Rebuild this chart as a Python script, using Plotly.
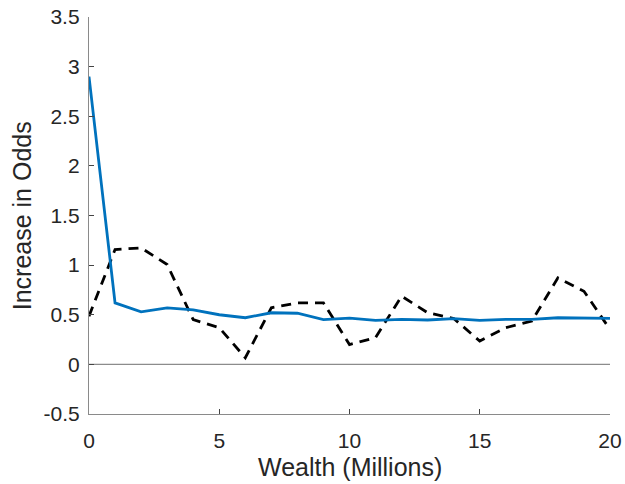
import plotly.graph_objects as go

# Wealth grid (millions) and the two odds series
wealth = list(range(0, 21))
odds_model = [2.90, 0.62, 0.53, 0.57, 0.55, 0.50, 0.47, 0.52, 0.515, 0.45, 0.465,
              0.443, 0.453, 0.447, 0.46, 0.443, 0.453, 0.453, 0.47, 0.47, 0.463]
odds_data = [0.486, 1.157, 1.174, 1.006, 0.45, 0.37, 0.067, 0.57, 0.62, 0.62, 0.20,
             0.27, 0.687, 0.52, 0.463, 0.235, 0.37, 0.436, 0.872, 0.737, 0.352]

x_ticks = [0, 5, 10, 15, 20]
y_ticks = [-0.5, 0, 0.5, 1, 1.5, 2, 2.5, 3, 3.5]
y_tick_text = ["-0.5", "0", "0.5", "1", "1.5", "2", "2.5", "3", "3.5"]

font_family = "Liberation Sans, Arial, Helvetica, sans-serif"
text_color = "#262626"

fig = go.Figure()

# Zero reference line
fig.add_trace(go.Scatter(
    x=[wealth[0], wealth[-1]], y=[0, 0], mode="lines",
    line=dict(color="#8c8c8c", width=1.3), hoverinfo="skip", showlegend=False,
))

fig.add_trace(go.Scatter(
    x=wealth, y=odds_data, mode="lines",
    line=dict(color="black", width=2.8, dash="10px,7px"), showlegend=False,
))

fig.add_trace(go.Scatter(
    x=wealth, y=odds_model, mode="lines",
    line=dict(color="#0072BD", width=2.8), showlegend=False,
))

axis_common = dict(
    showgrid=False, zeroline=False, showline=True, linecolor="#8a8a8a", linewidth=1.3,
    ticks="inside", ticklen=5, tickwidth=1, tickcolor="#444444",
    tickfont=dict(family=font_family, size=21, color=text_color),
    mirror=False, automargin=False,
)

title_font = dict(family=font_family, size=25, color=text_color)

fig.update_layout(
    width=625, height=484,
    margin=dict(l=89, r=15, t=17, b=70, autoexpand=False),
    paper_bgcolor="white", plot_bgcolor="white",
    xaxis=dict(range=[0, 20], tickvals=x_ticks, ticklabelstandoff=8, **axis_common),
    yaxis=dict(range=[-0.5, 3.5], tickvals=y_ticks, ticktext=y_tick_text,
               ticklabelstandoff=4, **axis_common),
    annotations=[
        # axis titles placed relative to the plotting area
        dict(text="Wealth (Millions)", xref="paper", yref="paper",
             x=0.5, y=-0.134, xanchor="center", yanchor="middle",
             showarrow=False, font=title_font),
        dict(text="Increase in Odds", xref="paper", yref="paper",
             x=-0.129, y=0.5, xanchor="center", yanchor="middle", textangle=-90,
             showarrow=False, font=title_font),
    ],
)

fig.write_html("out.html")
